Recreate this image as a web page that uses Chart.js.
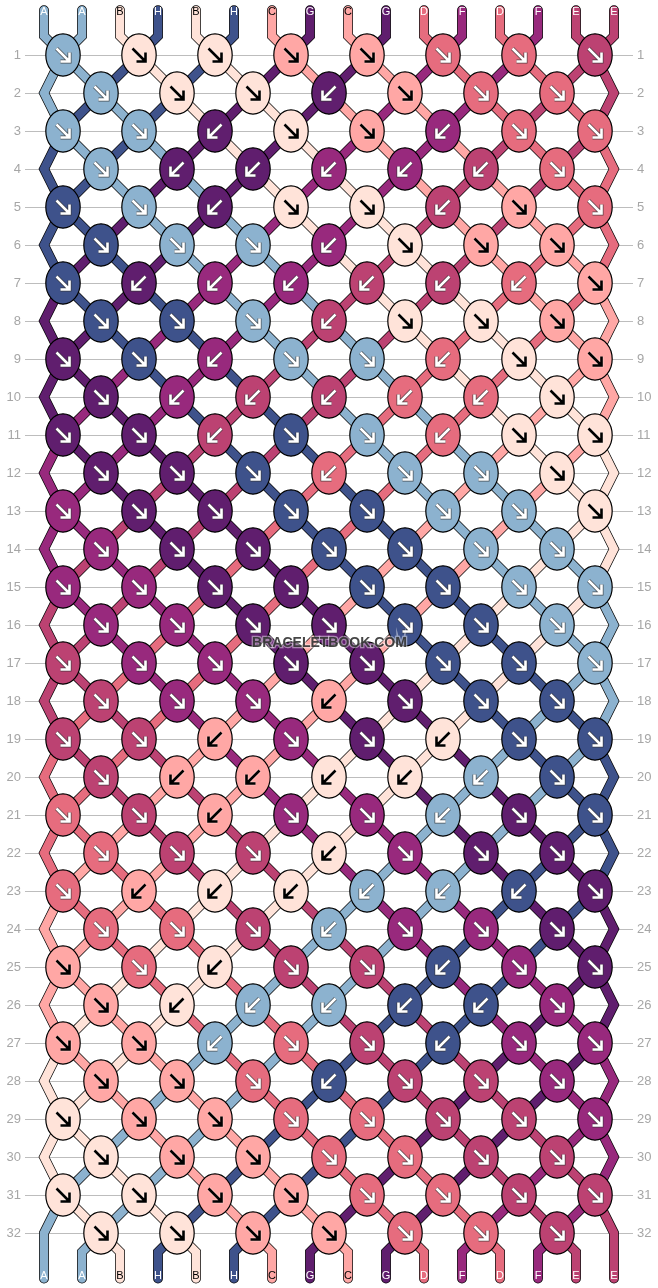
<!DOCTYPE html>
<html>
<head>
<meta charset="utf-8">
<title>Bracelet pattern</title>
<script src="https://cdn.jsdelivr.net/npm/chart.js@4"></script>
<style>
    html, body { margin: 0; padding: 0; background: #fff; }
    canvas { display: block; }
</style>
</head>
<body>
<canvas id="pattern" width="658" height="1288"></canvas>
<script>
'use strict';

// Threads at the top of the pattern, left to right
const startThreads = ['A', 'A', 'B', 'H', 'B', 'H', 'C', 'G', 'C', 'G', 'D', 'F', 'D', 'F', 'E', 'E'];

const threadNames = ['A', 'B', 'C', 'D', 'E', 'F', 'G', 'H'];
const threadColors = ['#8cb2cf', '#ffe3d9', '#ffa7a5', '#e66c7e', '#bc4272', '#98297d', '#601e6e', '#3e528b'];
const threadInks = ['#ffffff', '#000000', '#000000', '#ffffff', '#ffffff', '#ffffff', '#ffffff', '#ffffff'];

// One string per row, one letter per knot: r = arrow down-right, l = arrow down-left
const rowKnots = [
    'rrrrrrrr', 'rrrlrrr', 'rrlrrlrr', 'rlllllr', 'rrlrrlrr', 'rrrlrrr', 'rllllllr', 'rrrlrrr',
    'rrlrrlrr', 'rlllllr', 'rrlrrlrr', 'rrrlrrr', 'rrrrrrrr', 'rrrrrrr', 'rrrrrrrr', 'rrrrrrr',
    'rrrrrrrr', 'rrrlrrr', 'rrlrrlrr', 'rlllllr', 'rrlrrlrr', 'rrrlrrr', 'rllllllr', 'rrrlrrr',
    'rrlrrlrr', 'rlllllr', 'rrlrrlrr', 'rrrlrrr', 'rrrrrrrr', 'rrrrrrr', 'rrrrrrrr', 'rrrrrrr'
];

const rowLabels = rowKnots.map((_, i) => i + 1);

const TOP_END = -0.18;
const BOTTOM_END = 33.2;
const TOP_TEXT = -0.13;
const BOTTOM_TEXT = 33.13;

function colorOf(name) { return threadColors[threadNames.indexOf(name)]; }
function inkOf(name) { return threadInks[threadNames.indexOf(name)]; }

// ==================== KNOT SPRITES ====================

const spriteCache = {};

function knotSprite(name, dir) {
    const key = name + dir;
    if (spriteCache[key]) return spriteCache[key];

    const c = document.createElement('canvas');
    c.width = 40;
    c.height = 48;
    const g = c.getContext('2d');
    g.translate(20, 24);

    g.beginPath();
    g.ellipse(0, 0, 17.2, 21.2, 0, 0, Math.PI * 2);
    g.fillStyle = colorOf(name);
    g.fill();
    g.lineWidth = 1.2;
    g.strokeStyle = '#000';
    g.stroke();

    const ink = inkOf(name);
    const s = dir === 'r' ? 1 : -1;
    const arrow = () => {
        g.beginPath();
        g.moveTo(-6.5 * s, -6.5);
        g.lineTo(5.5 * s, 5.5);
        g.moveTo(6.5 * s, -2.5);
        g.lineTo(6.5 * s, 6.5);
        g.lineTo(-2.5 * s, 6.5);
        g.stroke();
    };
    g.lineCap = 'butt';
    g.lineJoin = 'miter';
    g.strokeStyle = ink === '#ffffff' ? '#333333' : '#ffffff';
    g.globalAlpha = ink === '#ffffff' ? 0.8 : 0.35;
    g.lineWidth = 4;
    arrow();
    g.globalAlpha = 1;
    g.strokeStyle = ink;
    g.lineWidth = 2.6;
    arrow();

    spriteCache[key] = c;
    return c;
}

// ==================== WALK THE THREADS THROUGH THE KNOTS ====================

const strandPaths = startThreads.map((_, p) => [{ x: p, y: TOP_END }, { x: p, y: 0.5 }]);
const knotPoints = [];
const knotSprites = [];
let order = startThreads.map((_, p) => p);

rowKnots.forEach((knots, i) => {
    const row = i + 1;
    const first = row % 2 === 1 ? 0 : 1;
    if (first === 1) {
        strandPaths[order[0]].push({ x: 0, y: row });
        strandPaths[order[15]].push({ x: 15, y: row });
    }
    [...knots].forEach((dir, k) => {
        const p = first + k * 2;
        const a = order[p];
        const b = order[p + 1];
        strandPaths[a].push({ x: p + 0.5, y: row });
        strandPaths[b].push({ x: p + 0.5, y: row });
        knotPoints.push({ x: p + 0.5, y: row });
        knotSprites.push(knotSprite(startThreads[dir === 'r' ? a : b], dir));
        order[p] = b;
        order[p + 1] = a;
    });
});

order.forEach((id, p) => {
    if (p > 0 && p < 15) strandPaths[id].push({ x: p, y: 32.5 });
    strandPaths[id].push({ x: p, y: BOTTOM_END });
});

const endThreads = order.map(id => startThreads[id]);

// ==================== CHART ====================

function strandDataset(path, color, width, layer) {
    return {
        data: path,
        showLine: true,
        borderColor: color,
        borderWidth: width,
        borderCapStyle: 'round',
        borderJoinStyle: 'miter',
        tension: 0,
        pointRadius: 0,
        clip: false,
        order: layer
    };
}

const threadLabels = {
    id: 'threadLabels',
    afterDatasetsDraw(chart) {
        const { ctx, scales: { x, y } } = chart;
        ctx.save();
        ctx.font = '11px "Liberation Sans", Arial, sans-serif';
        ctx.textAlign = 'center';
        ctx.textBaseline = 'middle';
        startThreads.forEach((name, p) => {
            ctx.fillStyle = inkOf(name);
            ctx.fillText(name, x.getPixelForValue(p), y.getPixelForValue(TOP_TEXT));
        });
        endThreads.forEach((name, p) => {
            ctx.fillStyle = inkOf(name);
            ctx.fillText(name, x.getPixelForValue(p), y.getPixelForValue(BOTTOM_TEXT));
        });
        // Site watermark
        ctx.font = 'bold 14px "Liberation Sans", Arial, sans-serif';
        ctx.lineWidth = 2.5;
        ctx.strokeStyle = 'rgba(255, 255, 255, 0.45)';
        ctx.strokeText('BRACELETBOOK.COM', 329.5, 643);
        ctx.fillStyle = 'rgba(50, 50, 50, 0.9)';
        ctx.fillText('BRACELETBOOK.COM', 329.5, 643);
        ctx.restore();
    }
};

function rowAxis(position, showGrid) {
    return {
        type: 'linear',
        position: position,
        reverse: true,
        min: -0.4,
        max: 33.4,
        afterBuildTicks(scale) { scale.ticks = rowLabels.map(v => ({ value: v })); },
        // Tick labels stay well inside the plot, so no margin is needed for them
        afterFit(scale) {
            scale.width = 25;
            scale.paddingTop = 0;
            scale.paddingBottom = 0;
        },
        grid: { display: showGrid, color: '#bdbdbd', lineWidth: 1, drawTicks: false },
        border: { display: false },
        ticks: {
            color: '#a6a6a6',
            padding: 4,
            autoSkip: false,
            font: { family: '"Liberation Sans", Arial, sans-serif', size: 13 }
        }
    };
}

new Chart(document.getElementById('pattern').getContext('2d'), {
    type: 'scatter',
    data: {
        datasets: [
            ...strandPaths.map(path => strandDataset(path, '#000000', 9.8, 3)),
            ...strandPaths.map((path, id) => strandDataset(path, colorOf(startThreads[id]), 8.4, 2)),
            {
                data: knotPoints,
                pointStyle: knotSprites,
                pointRadius: 18,
                clip: false,
                order: 1
            }
        ]
    },
    options: {
        responsive: false,
        animation: false,
        layout: { autoPadding: false, padding: { top: 1.8, bottom: 1.8, left: 0, right: 0 } },
        scales: {
            x: { type: 'linear', display: false, min: -0.5, max: 15.5 },
            y: rowAxis('left', true),
            y2: rowAxis('right', false)
        },
        plugins: { legend: { display: false }, tooltip: { enabled: false } }
    },
    plugins: [threadLabels]
});
</script>
</body>
</html>
